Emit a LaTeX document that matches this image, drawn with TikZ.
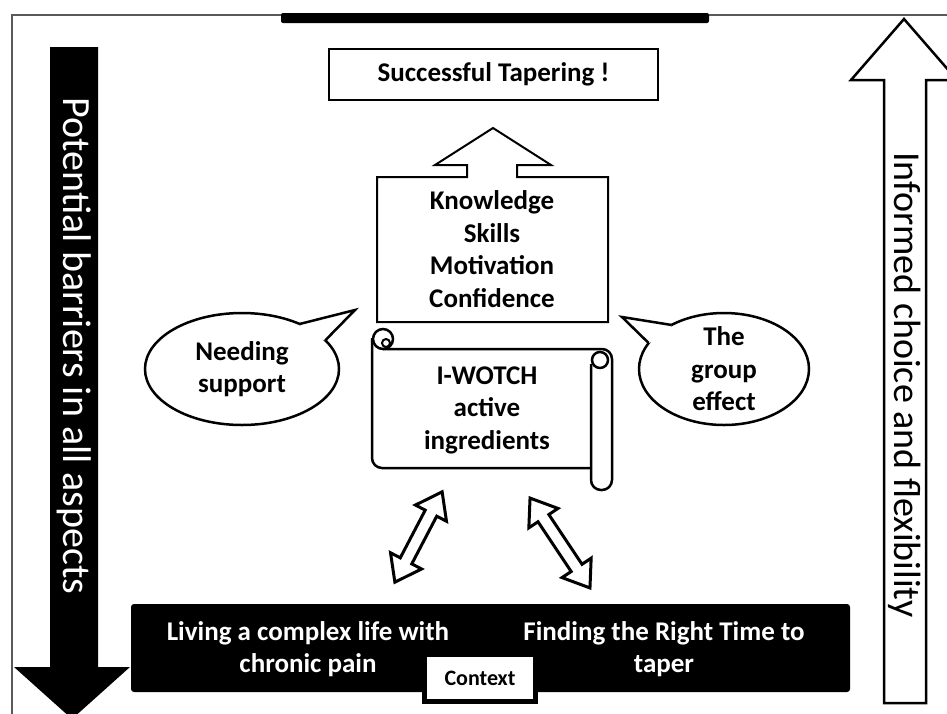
\documentclass[tikz,border=0pt]{standalone}
\usepackage{fontspec}
\setmainfont{Carlito}
\usetikzlibrary{shapes.geometric,shapes.arrows,calc}
\definecolor{framecol}{RGB}{90,90,90}
\definecolor{inkcol}{RGB}{0,0,0}
\newcommand{\boxfont}{\fontsize{27}{32.5}\selectfont\bfseries}
\newcommand{\sidefont}{\fontsize{40}{46}\selectfont}
\newcommand{\rsidefont}{\fontsize{38}{44}\selectfont}
\newcommand{\ctxfont}{\fontsize{22}{26}\selectfont\bfseries}

\begin{document}
\begin{tikzpicture}[x=1pt, y=-1pt,
		outline/.style={draw=inkcol, line width=2.5pt, line join=miter, fill=white},
		bubble/.style={ellipse, outline, inner sep=-15pt, outer sep=0pt, font=\boxfont, align=center},
		linkarrow/.style={double arrow, outline, line width=3pt, minimum width=34pt, minimum height=102pt,
				double arrow head extend=11pt, double arrow tip angle=72, inner xsep=0pt, inner ysep=5pt},
		whitetext/.style={text=white, font=\boxfont, align=center}]

	% --- Parameters ---
	\def\lw{2.5pt}
	\def\tw{2pt}

	\clip (0,0) rectangle (947,713);

	% =============================================
	%  FRAME AND SIDE ARROWS
	% =============================================

	% Frame and top bar
	\draw[framecol, line width=1.2pt] (12,730) -- (12,15) -- (960,15);
	\fill[inkcol, rounded corners=2pt] (281,13) rectangle (709,23);

	% Left arrow (barriers)
	\fill[inkcol] (50,47) -- (98,47) -- (98,667) -- (130,667) -- (72,719)
	-- (14,667) -- (50,667) -- cycle;
	\node[rotate=-90, text=white, font=\sidefont] (barriers) at (74,346)
	{Potential barriers in all aspects};

	% Right arrow (choice)
	\draw[outline] (884,703) -- (884,80) -- (851,80) -- (904,19) -- (957,80)
	-- (926,80) -- (926,703) -- cycle;
	\node[rotate=-90, font=\rsidefont] (choice) at (905,385)
	{Informed choice and flexibility};

	% =============================================
	%  CENTRE COLUMN
	% =============================================

	% Outcome
	\node[outline, line width=\tw, minimum width=329pt, minimum height=51pt,
		font=\boxfont] (success) at (493.5,74.5) {Successful Tapering !};

	% Box with arrow on top
	\draw[outline, line width=\tw] (377,177) -- (467,177) -- (467,165) -- (435,165)
	-- (493,128) -- (551,165) -- (517,165) -- (517,177) -- (608,177)
	-- (608,322) -- (377,322) -- cycle;
	\node[font=\boxfont, align=center] (skills) at (492,249)
	{Knowledge\\Skills\\Motivation\\Confidence};

	% Scroll
	\draw[line width=\lw, rounded corners=10pt] (372,338) -- (372,468) -- (591,468);
	\draw[line width=\lw, rounded corners=10pt] (383,349) -- (612,349) -- (612,490)
	-- (591,490) -- (591,364);
	\draw[line width=\lw] (383,339) circle (10pt);
	\draw[line width=\tw] (386,343) circle (4pt);
	\draw[line width=\lw] (600,360) circle (8pt);
	\node[font=\boxfont, align=center] (iwotch) at (487,410)
	{I-WOTCH\\active\\ingredients};

	% =============================================
	%  SPEECH BUBBLES
	% =============================================

	\node[bubble, minimum width=194pt, minimum height=112pt] (needing) at (242,369)
	{Needing\\support};
	\coordinate (needtip) at (355,310);
	\fill[white] (needing.38) -- (needtip) -- (needing.19)
	-- ($(needing.28)!10pt!(needing.center)$) -- cycle;
	\draw[line width=\lw, line join=miter] (needing.38) -- (needtip) -- (needing.19);

	\node[bubble, minimum width=170pt, minimum height=112pt] (group) at (724,369)
	{The\\group\\effect};
	\coordinate (grouptip) at (622,317);
	\fill[white] (group.140) -- (grouptip) -- (group.161)
	-- ($(group.150)!10pt!(group.center)$) -- cycle;
	\draw[line width=\lw, line join=miter] (group.140) -- (grouptip) -- (group.161);

	% =============================================
	%  CONTEXT
	% =============================================

	% Two-way links
	\node[linkarrow, rotate=62.4] (linkL) at (418.5,537) {};
	\node[linkarrow, rotate=-56.3, minimum height=108pt] (linkR) at (560,543) {};

	% Bar
	\node[fill=inkcol, rounded corners=3pt, minimum width=719pt, minimum height=88pt,
		inner sep=0pt] (ctxbar) at (490.5,648) {};
	\node[whitetext] (living) at (308,649) {Living a complex life with\\chronic pain};
	\node[whitetext] (timing) at (664,649) {Finding the Right Time to\\taper};
	\node[draw=inkcol, fill=white, line width=5pt, minimum width=111pt,
		minimum height=47pt, inner sep=0pt, font=\ctxfont] (context) at (480,678) {Context};

\end{tikzpicture}
\end{document}
